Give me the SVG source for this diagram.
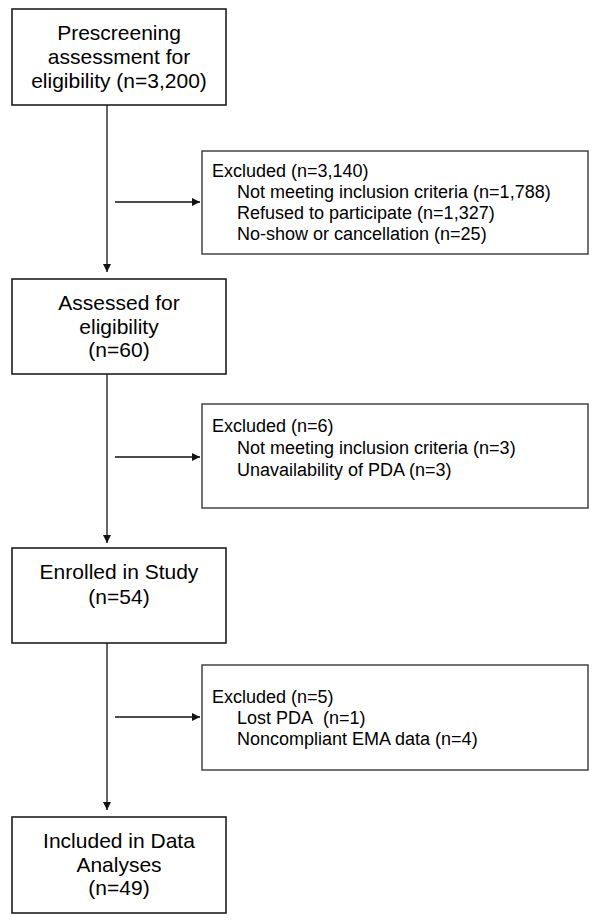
<svg xmlns="http://www.w3.org/2000/svg" width="600" height="921" viewBox="0 0 600 921">
<style>
.box{fill:#fff;stroke:#111;stroke-width:1.5}
.ex{fill:#fff;stroke:#444;stroke-width:1.5}
.t{font-family:"Liberation Sans",Arial,sans-serif;font-size:21px;fill:#000;text-anchor:middle}
.s{font-family:"Liberation Sans",Arial,sans-serif;font-size:18px;fill:#000}
.c{stroke:#111;stroke-width:1.3;fill:none}
</style>
<defs>
<marker id="ah" viewBox="0 0 10 10" refX="10" refY="5" markerWidth="8" markerHeight="8" markerUnits="userSpaceOnUse" orient="auto">
<path d="M0,0 L10,5 L0,10 z" fill="#111"/>
</marker>
</defs>
<g id="connectors">
<line class="c" x1="107" y1="105" x2="107" y2="272" marker-end="url(#ah)"/>
<line class="c" x1="107" y1="374" x2="107" y2="543" marker-end="url(#ah)"/>
<line class="c" x1="107" y1="643" x2="107" y2="810" marker-end="url(#ah)"/>
<line class="c" x1="115" y1="202" x2="200" y2="202" marker-end="url(#ah)"/>
<line class="c" x1="115" y1="457" x2="200" y2="457" marker-end="url(#ah)"/>
<line class="c" x1="115" y1="717" x2="200" y2="717" marker-end="url(#ah)"/>
</g>
<g id="prescreening">
<rect class="box" x="12" y="9" width="214" height="96"/>
<text class="t" x="119" y="40">Prescreening</text>
<text class="t" x="119" y="64">assessment for</text>
<text class="t" x="119" y="88">eligibility (n=3,200)</text>
</g>
<g id="excluded1">
<rect class="ex" x="202" y="151" width="386" height="103"/>
<text class="s" x="212" y="177">Excluded (n=3,140)</text>
<text class="s" x="237" y="198">Not meeting inclusion criteria (n=1,788)</text>
<text class="s" x="237" y="219">Refused to participate (n=1,327)</text>
<text class="s" x="237" y="240">No-show or cancellation (n=25)</text>
</g>
<g id="assessed">
<rect class="box" x="12" y="279" width="214" height="95"/>
<text class="t" x="119" y="310">Assessed for</text>
<text class="t" x="119" y="334">eligibility</text>
<text class="t" x="119" y="357">(n=60)</text>
</g>
<g id="excluded2">
<rect class="ex" x="202" y="404" width="386" height="104"/>
<text class="s" x="212" y="432">Excluded (n=6)</text>
<text class="s" x="237" y="454">Not meeting inclusion criteria (n=3)</text>
<text class="s" x="237" y="476">Unavailability of PDA (n=3)</text>
</g>
<g id="enrolled">
<rect class="box" x="12" y="548" width="214" height="95"/>
<text class="t" x="119" y="579">Enrolled in Study</text>
<text class="t" x="119" y="604">(n=54)</text>
</g>
<g id="excluded3">
<rect class="ex" x="202" y="665" width="386" height="105"/>
<text class="s" x="212" y="703">Excluded (n=5)</text>
<text class="s" x="237" y="724">Lost PDA&#160; (n=1)</text>
<text class="s" x="237" y="745">Noncompliant EMA data (n=4)</text>
</g>
<g id="included">
<rect class="box" x="12" y="817" width="214" height="96"/>
<text class="t" x="119" y="848">Included in Data</text>
<text class="t" x="119" y="872">Analyses</text>
<text class="t" x="119" y="895">(n=49)</text>
</g>
</svg>
